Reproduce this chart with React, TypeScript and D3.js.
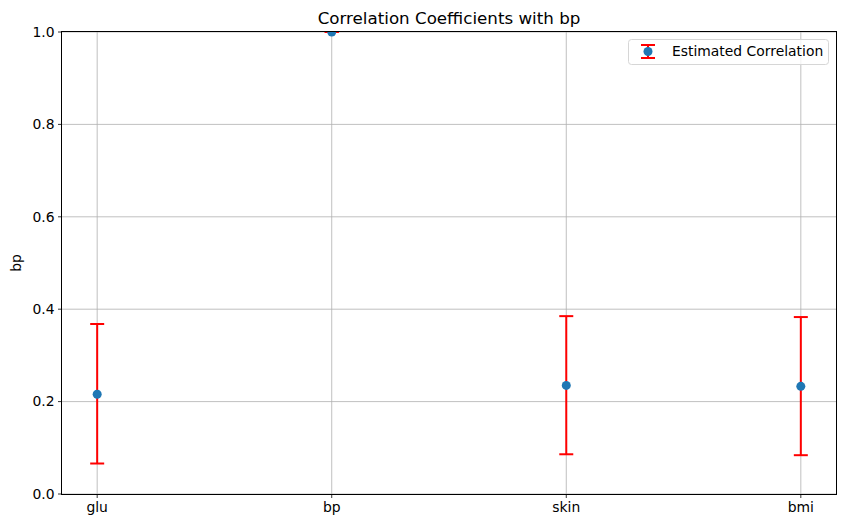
import React from "react";
import * as d3 from "d3";

const categories = ["glu", "bp", "skin", "bmi"];
const estimates = [0.216, 1.0, 0.235, 0.233];
const lower = [0.066, 1.0, 0.086, 0.084];
const upper = [0.368, 1.0, 0.385, 0.383];
const yTicks = [0, 0.2, 0.4, 0.6, 0.8, 1.0];

const W = 846, H = 528;
const M = { left: 62, right: 10, top: 32, bottom: 34 };
const FONT = "DejaVu Sans, sans-serif";

export default function App() {
  const x = d3.scaleLinear().domain([-0.15, categories.length - 1 + 0.15]).range([M.left, W - M.right]);
  const y = d3.scaleLinear().domain([0, 1]).range([H - M.bottom, M.top]);
  const x0 = M.left, x1 = W - M.right, y0 = H - M.bottom, y1 = M.top;
  const cap = 7;
  const fs = 13.9;
  return (
    <svg width={W} height={H} style={{ position: "absolute", left: 0, top: 0, background: "#fff" }} fontFamily={FONT}>
      <defs>
        <clipPath id="plot">
          <rect x={x0} y={y1} width={x1 - x0} height={y0 - y1} />
        </clipPath>
      </defs>
      <rect width={W} height={H} fill="#fff" />
      <g stroke="#b0b0b0" strokeWidth={0.8}>
        {categories.map((c, i) => (
          <line key={c} x1={x(i)} x2={x(i)} y1={y0} y2={y1} />
        ))}
        {yTicks.map((t) => (
          <line key={t} x1={x0} x2={x1} y1={y(t)} y2={y(t)} />
        ))}
      </g>
      <g clipPath="url(#plot)">
        {categories.map((c, i) => (
          <g key={c} stroke="red" strokeWidth={2}>
            <line x1={x(i)} x2={x(i)} y1={y(lower[i])} y2={y(upper[i])} />
            <line x1={x(i) - cap} x2={x(i) + cap} y1={y(lower[i])} y2={y(lower[i])} />
            <line x1={x(i) - cap} x2={x(i) + cap} y1={y(upper[i])} y2={y(upper[i])} />
          </g>
        ))}
        {categories.map((c, i) => (
          <circle key={c} cx={x(i)} cy={y(estimates[i])} r={4.5} fill="#1f77b4" />
        ))}
      </g>
      <rect x={x0 - 0.5} y={y1 - 0.5} width={x1 - x0 + 1} height={y0 - y1 + 1} fill="none" stroke="#000" strokeWidth={1} />
      {yTicks.map((t) => (
        <g key={t}>
          <line x1={x0 - 4} x2={x0} y1={y(t)} y2={y(t)} stroke="#000" strokeWidth={0.8} />
          <text x={x0 - 7.5} y={y(t)} dy="0.35em" textAnchor="end" fontSize={fs} fill="#000">{t.toFixed(1)}</text>
        </g>
      ))}
      {categories.map((c, i) => (
        <g key={c}>
          <line x1={x(i)} x2={x(i)} y1={y0} y2={y0 + 4} stroke="#000" strokeWidth={0.8} />
          <text x={x(i)} y={y0 + 18} textAnchor="middle" fontSize={fs} fill="#000">{c}</text>
        </g>
      ))}
      <text transform={`translate(21,${(y0 + y1) / 2}) rotate(-90)`} textAnchor="middle" fontSize={fs} fill="#000">bp</text>
      <text x={(x0 + x1) / 2} y={23.5} textAnchor="middle" fontSize={16.7} fill="#000">Correlation Coefficients with bp</text>
      <g>
        <rect x={628.5} y={39.5} width={200} height={25} rx={3} fill="#fff" fillOpacity={0.8} stroke="#d6d6d6" strokeWidth={1} />
        <g stroke="red" strokeWidth={2}>
          <line x1={648} x2={648} y1={45} y2={58} />
          <line x1={641} x2={655} y1={45} y2={45} />
          <line x1={641} x2={655} y1={58} y2={58} />
        </g>
        <circle cx={648} cy={51.5} r={4.5} fill="#1f77b4" />
        <text x={672} y={51.5} dy="0.35em" fontSize={fs} fill="#000">Estimated Correlation</text>
      </g>
    </svg>
  );
}
